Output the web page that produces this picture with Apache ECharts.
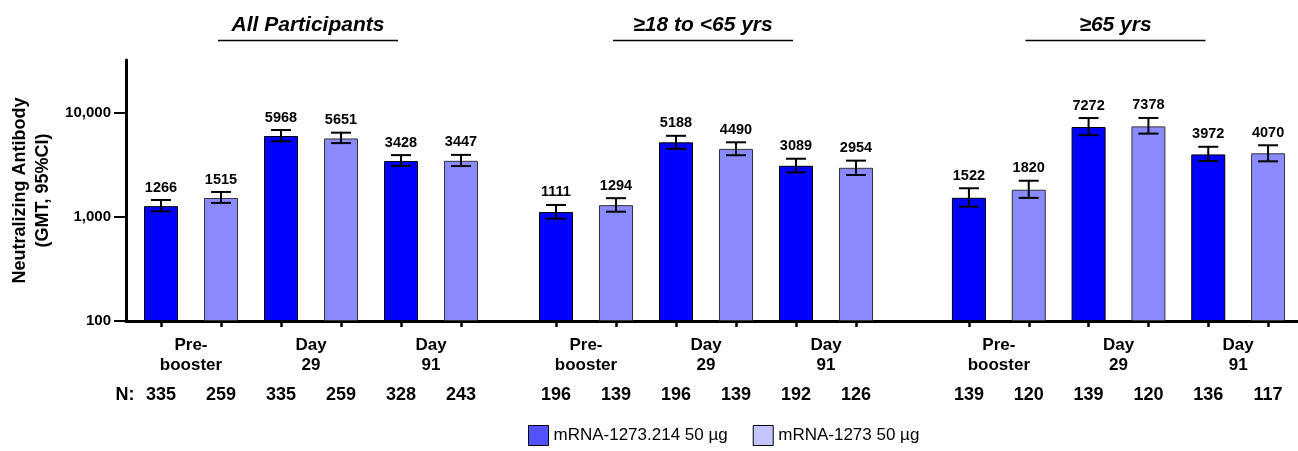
<!DOCTYPE html>
<html><head><meta charset="utf-8">
<script src="https://cdn.jsdelivr.net/npm/echarts@6/dist/echarts.min.js"></script>
<style>html,body{margin:0;padding:0;background:#fff}#c{width:1298px;height:451px}</style>
</head><body><div id="c"></div>
<script>
// ---- data ----
const groups = ['All Participants', '≥18 to <65 yrs', '≥65 yrs'];
const timepoints = ['Pre-\nbooster', 'Day\n29', 'Day\n91'];
const seriesNames = ['mRNA-1273.214 50 µg', 'mRNA-1273 50 µg'];
// order in each: All (Pre, D29, D91), 18-65 (Pre, D29, D91), >=65 (Pre, D29, D91)
const gmt214  = [1266, 5968, 3428, 1111, 5188, 3089, 1522, 7272, 3972];
const lo214   = [1130, 5310, 3080,  960, 4500, 2670, 1250, 6080, 3430];
const hi214   = [1450, 6810, 3910, 1300, 5990, 3610, 1880, 8870, 4700];
const gmt1273 = [1515, 5651, 3447, 1294, 4490, 2954, 1820, 7378, 4070];
const lo1273  = [1360, 5100, 3070, 1120, 3900, 2520, 1520, 6290, 3410];
const hi1273  = [1730, 6420, 3930, 1510, 5190, 3460, 2220, 8890, 4860];
const n214  = [335, 335, 328, 196, 196, 192, 139, 139, 136];
const n1273 = [259, 259, 243, 139, 139, 126, 120, 120, 117];
const yTicks = [100, 1000, 10000];

// ---- layout / style ----
const FONT = '"Liberation Sans", Arial, sans-serif';
const TOP = 60, H = 261;
const GL = [131, 526, 939];
const GW = [360, 360, 359];
const C_DARK = '#0000FF', C_LIGHT = '#8B8BFF';
const YMIN = 100, YMAX = 32000;

const grid = [{left: 126, top: TOP, width: 1172, height: H}];
for (let g = 0; g < 3; g++) grid.push({left: GL[g], top: TOP, width: GW[g], height: H});
for (let g = 0; g < 3; g++) grid.push({left: GL[g], top: TOP, width: GW[g], height: H});

const xAxis = [{
  gridIndex: 0, type: 'value', min: 0, max: 1,
  axisLine: {show: true, onZero: false, lineStyle: {color: '#000', width: 3}},
  axisTick: {show: false}, axisLabel: {show: false}, splitLine: {show: false}
}];
const yAxis = [{
  gridIndex: 0, type: 'log', logBase: 10, min: YMIN, max: YMAX,
  name: 'Neutralizing Antibody\n(GMT, 95%CI)', nameLocation: 'middle', nameGap: 67, nameRotate: 90,
  nameTextStyle: {fontSize: 18, fontWeight: 'bold', fontFamily: FONT, color: '#000', lineHeight: 23},
  axisLine: {show: true, lineStyle: {color: '#000', width: 3}},
  axisTick: {show: true, length: 12, lineStyle: {color: '#000', width: 2}, customValues: yTicks},
  axisLabel: {customValues: yTicks, formatter: v => Number(v).toLocaleString('en-US'),
    fontSize: 15, fontWeight: 'bold', fontFamily: FONT, color: '#000', margin: 15},
  splitLine: {show: false}, minorTick: {show: false}
}];

const series = [];
for (let g = 0; g < 3; g++) {
  const idx = [3 * g, 3 * g + 1, 3 * g + 2];
  const nLabels = [];
  idx.forEach(i => { nLabels.push(String(n214[i])); nLabels.push(String(n1273[i])); });
  xAxis.push({
    gridIndex: 1 + g, type: 'category', data: nLabels,
    axisLine: {show: false},
    axisTick: {show: true, alignWithLabel: true, length: 6, lineStyle: {color: '#000', width: 2.5}},
    axisLabel: {interval: 0, fontSize: 18, fontWeight: 'bold', fontFamily: FONT, color: '#000', margin: 64, lineHeight: 20},
    splitLine: {show: false}
  });
  yAxis.push({gridIndex: 1 + g, type: 'log', logBase: 10, min: YMIN, max: YMAX, startValue: YMIN, show: false});
  const dark = [], light = [], err = [];
  idx.forEach((i, k) => {
    dark.push(gmt214[i]); dark.push('-');
    light.push('-'); light.push(gmt1273[i]);
    err.push([2 * k, lo214[i], hi214[i], gmt214[i]]);
    err.push([2 * k + 1, lo1273[i], hi1273[i], gmt1273[i]]);
  });
  series.push({
    name: seriesNames[0], type: 'bar', xAxisIndex: 1 + g, yAxisIndex: 1 + g, data: dark,
    barWidth: 34, barGap: '-100%', clip: true,
    itemStyle: {color: C_DARK, borderColor: '#000', borderWidth: 1}
  });
  series.push({
    name: seriesNames[1], type: 'bar', xAxisIndex: 1 + g, yAxisIndex: 1 + g, data: light,
    barWidth: 34, barGap: '-100%', clip: true,
    itemStyle: {color: C_LIGHT, borderColor: '#333', borderWidth: 1}
  });
  series.push({
    type: 'custom', xAxisIndex: 1 + g, yAxisIndex: 1 + g, z: 5,
    dimensions: ['x', 'lo', 'hi', 'gmt'], encode: {x: 0, y: [1, 2]},
    data: err,
    renderItem: (params, api) => {
      const x = api.value(0);
      const lo = api.coord([x, api.value(1)]);
      const hi = api.coord([x, api.value(2)]);
      const cx = lo[0], hw = 10;
      const st = {stroke: '#000', lineWidth: 2};
      return {type: 'group', children: [
        {type: 'line', shape: {x1: cx, y1: lo[1], x2: cx, y2: hi[1]}, style: st},
        {type: 'line', shape: {x1: cx - hw, y1: hi[1], x2: cx + hw, y2: hi[1]}, style: st},
        {type: 'line', shape: {x1: cx - hw, y1: lo[1], x2: cx + hw, y2: lo[1]}, style: st},
        {type: 'text', x: cx, y: hi[1] - 5, style: {text: String(api.value(3)),
          font: 'bold 14.5px ' + FONT, fill: '#000', align: 'center', verticalAlign: 'bottom'}}
      ]};
    }
  });
}
for (let g = 0; g < 3; g++) {
  xAxis.push({
    gridIndex: 4 + g, type: 'category', data: timepoints,
    axisLine: {show: false}, axisTick: {show: false}, splitLine: {show: false},
    axisLabel: {interval: 0, fontSize: 17, fontWeight: 'bold', fontFamily: FONT, color: '#000', lineHeight: 20, margin: 14}
  });
  yAxis.push({gridIndex: 4 + g, type: 'log', logBase: 10, min: YMIN, max: YMAX, show: false});
}

const graphic = [];
groups.forEach((t, g) => {
  const cx = GL[g] + GW[g] / 2 - 3;
  graphic.push({type: 'text', x: cx, y: 25, style: {text: t, font: 'italic bold 21px ' + FONT,
    fill: '#000', align: 'center', verticalAlign: 'middle'}});
  graphic.push({type: 'line', shape: {x1: cx - 90, y1: 40.5, x2: cx + 90, y2: 40.5},
    style: {stroke: '#000', lineWidth: 1.5}});
});
graphic.push({type: 'text', x: 125, y: 395, style: {text: 'N:', font: 'bold 18px ' + FONT,
  fill: '#000', align: 'center', verticalAlign: 'middle'}});

const option = {
  animation: false,
  backgroundColor: '#fff',
  grid, xAxis, yAxis, series, graphic,
  legend: {
    left: 528, top: 425, padding: 0, itemWidth: 20, itemHeight: 20, itemGap: 25, icon: 'rect',
    textStyle: {fontSize: 17, fontFamily: FONT, color: '#000'},
    data: [
      {name: seriesNames[0], itemStyle: {color: '#5252FF', borderColor: '#000', borderWidth: 1}},
      {name: seriesNames[1], itemStyle: {color: '#C4C4FF', borderColor: '#000', borderWidth: 1}}
    ]
  }
};
const chart = echarts.init(document.getElementById('c'), null, {renderer: 'canvas'});
chart.setOption(option);
</script></body></html>
